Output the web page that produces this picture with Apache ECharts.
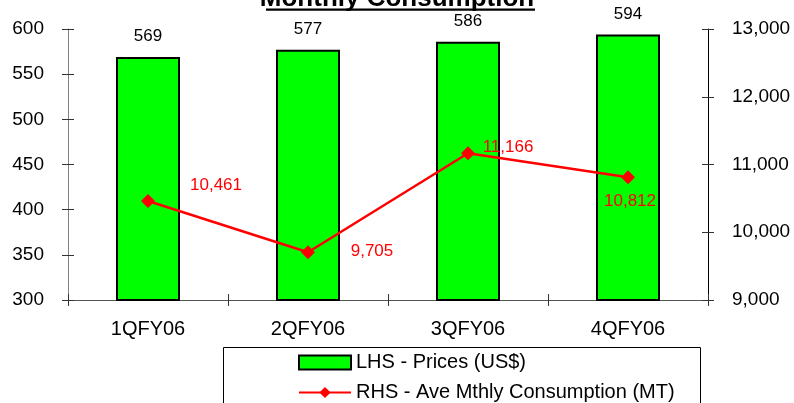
<!DOCTYPE html>
<html>
<head>
<meta charset="utf-8">
<script src="https://cdn.jsdelivr.net/npm/echarts@6/dist/echarts.min.js"></script>
<style>html,body{margin:0;padding:0;background:#fff;}#c{width:794px;height:403px;}</style>
</head>
<body>
<div id="c"></div>
<script>
const categories = ['1QFY06', '2QFY06', '3QFY06', '4QFY06'];
const prices = [569, 577, 586, 594];
const consumption = [10461, 9705, 11166, 10812];
const lineLabelOffsets = [[68, -16], [64, -1], [40, -6], [2, 24]];

const FONT = 'Liberation Sans, Arial, sans-serif';
const chart = echarts.init(document.getElementById('c'), null, {renderer: 'canvas'});

const fmt = v => v.toLocaleString('en-US');

const baseY = {
  type: 'value', splitLine: {show: false}
};

chart.setOption({
  animation: false,
  backgroundColor: '#fff',
  grid: {left: 68, right: 86, top: 29, bottom: 103, containLabel: false},
  xAxis: [
    {type: 'category', data: categories, position: 'bottom',
     axisLine: {lineStyle: {color: '#555', width: 1}},
     axisTick: {show: true, inside: false, length: 6, lineStyle: {color: '#333'}},
     axisLabel: {color: '#000', fontFamily: FONT, fontSize: 20, margin: 19}},
    {type: 'category', data: categories, position: 'bottom',
     axisLine: {show: false},
     axisTick: {show: true, inside: true, length: 6, lineStyle: {color: '#333'}},
     axisLabel: {show: false}}
  ],
  yAxis: [
    Object.assign({}, baseY, {min: 300, max: 600, interval: 50, position: 'left',
      axisLine: {show: true, lineStyle: {color: '#808080', width: 1}},
      axisTick: {show: true, length: 6, lineStyle: {color: '#333'}},
      axisLabel: {color: '#000', fontFamily: FONT, fontSize: 19, margin: 24}}),
    Object.assign({}, baseY, {min: 9000, max: 13000, interval: 1000, position: 'right',
      axisLine: {show: true, lineStyle: {color: '#000', width: 1}},
      axisTick: {show: true, length: 6, lineStyle: {color: '#333'}},
      axisLabel: {color: '#000', fontFamily: FONT, fontSize: 19, margin: 24, formatter: v => fmt(v)}}),
    Object.assign({}, baseY, {min: 300, max: 600, interval: 50, position: 'left',
      axisLine: {show: false},
      axisTick: {show: true, inside: true, length: 6, lineStyle: {color: '#333'}},
      axisLabel: {show: false}}),
    Object.assign({}, baseY, {min: 9000, max: 13000, interval: 1000, position: 'right',
      axisLine: {show: false},
      axisTick: {show: true, inside: true, length: 6, lineStyle: {color: '#333'}},
      axisLabel: {show: false}})
  ],
  legend: {
    orient: 'vertical', left: 298, top: 352.5, height: 60, padding: 0,
    itemWidth: 52, itemHeight: 14, itemGap: 10,
    textStyle: {color: '#000', fontFamily: FONT, fontSize: 20, lineHeight: 20},
    data: [
      {name: 'LHS - Prices (US$)', icon: 'rect'},
      {name: 'RHS - Ave Mthly Consumption (MT)'}
    ]
  },
  series: [
    {
      name: 'LHS - Prices (US$)', type: 'bar', xAxisIndex: 0, yAxisIndex: 0,
      data: prices, barWidth: '40%',
      itemStyle: {color: '#00FF00', borderColor: '#000', borderWidth: 2},
      label: {show: true, position: 'top', distance: 12, color: '#000', fontFamily: FONT, fontSize: 17}
    },
    {
      name: 'RHS - Ave Mthly Consumption (MT)', type: 'line', xAxisIndex: 0, yAxisIndex: 1,
      data: consumption.map((v, i) => ({
        value: v,
        label: {offset: lineLabelOffsets[i]}
      })),
      symbol: 'diamond', symbolSize: 14,
      lineStyle: {color: '#FF0000', width: 2.5},
      itemStyle: {color: '#FF0000'},
      label: {show: true, position: 'inside', color: '#FF0000', fontFamily: FONT, fontSize: 17,
              formatter: p => fmt(p.value)},
      z: 5
    }
  ],
  graphic: [
    {type: 'text', left: 'center', top: -14,
     style: {text: 'Monthly Consumption', font: 'bold 26px ' + FONT, fill: '#000'}},
    {type: 'rect', shape: {x: 266, y: 8.5, width: 269, height: 2.2}, style: {fill: '#000'}},
    {type: 'rect', shape: {x: 223.5, y: 347.5, width: 477, height: 70},
     style: {fill: 'none', stroke: '#000', lineWidth: 1}, z: -1}
  ]
});
</script>
</body>
</html>
